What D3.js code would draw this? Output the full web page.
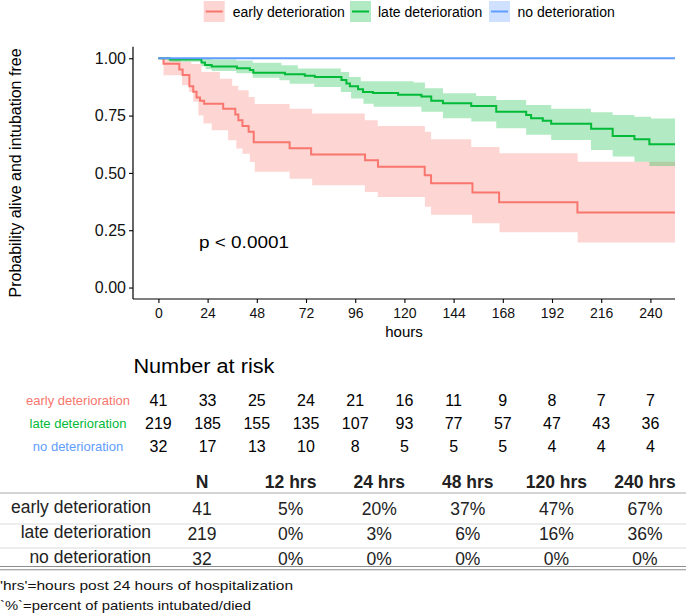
<!DOCTYPE html>
<html><head><meta charset="utf-8">
<script src="https://cdn.jsdelivr.net/npm/d3@7"></script>
<style>
body{margin:0;background:#fff}
svg{display:block}
text{font-family:"Liberation Sans",Arial,sans-serif}
</style>
</head><body>
<svg id="c" width="686" height="616"></svg>
<script>
// ---------------- data ----------------
const groups = ["early deterioration", "late deterioration", "no deterioration"];
const colors = ["#F8766D", "#00BA38", "#619CFF"];
const hourTicks = [0, 24, 48, 72, 96, 120, 144, 168, 192, 216, 240];
const probTicks = [0, 0.25, 0.5, 0.75, 1];
const probLabels = ["0.00", "0.25", "0.50", "0.75", "1.00"];

// Kaplan-Meier step curves [hours, survival]
const earlyCurve = [[0,1],[2.5,0.976],[10.2,0.951],[11.8,0.927],[15.1,0.878],[17,0.854],[18.6,0.829],[20.3,0.815],[22.3,0.802],[31.6,0.78],[37.5,0.755],[39,0.73],[41,0.705],[44,0.68],[46.5,0.634],[64,0.607],[74.5,0.58],[100.8,0.555],[107.1,0.527],[129.9,0.49],[133,0.455],[153.2,0.414],[166.2,0.372],[204.4,0.327]];
const earlyUpper = [[0,1],[11,0.985],[16,0.975],[21,0.94],[30,0.911],[36,0.88],[39,0.86],[44,0.831],[47,0.8],[64,0.78],[75,0.759],[100.7,0.73],[107,0.705],[130,0.68],[133,0.647],[152.6,0.613],[166.4,0.586],[204.5,0.549]];
const earlyLower = [[0,1],[2.5,0.926],[11.5,0.882],[15,0.853],[17,0.81],[19.5,0.75],[22,0.715],[26,0.686],[34,0.642],[38,0.606],[41,0.584],[44.6,0.548],[47,0.505],[64,0.475],[75,0.446],[100.7,0.417],[107,0.395],[130,0.352],[133,0.318],[153,0.28],[166.4,0.241],[204.5,0.196]];

const lateCurve = [[0,1],[5.5,0.995],[21,0.982],[22.7,0.971],[26,0.964],[38.3,0.956],[44.6,0.949],[46.3,0.937],[61.7,0.93],[71.4,0.924],[76.3,0.918],[89.3,0.905],[91.7,0.89],[93.4,0.878],[97.4,0.865],[99.8,0.853],[104.7,0.849],[116.9,0.841],[128.3,0.833],[133.1,0.815],[138.8,0.804],[152.6,0.792],[164.8,0.767],[179.4,0.753],[181.8,0.738],[187.5,0.727],[191.6,0.714],[211.1,0.693],[221.6,0.661],[232.2,0.647],[239.5,0.625]];
const lateUpper = [[0,1],[26,0.995],[38,0.99],[46,0.98],[60,0.969],[68,0.955],[89,0.94],[93,0.918],[98.7,0.9],[124.5,0.894],[130,0.869],[138.8,0.847],[155,0.835],[164.8,0.818],[179.4,0.796],[191.6,0.78],[211,0.765],[221.6,0.753],[232.2,0.745],[240.3,0.737]];
const lateLower = [[0,1],[5.5,0.985],[21,0.965],[23,0.952],[26,0.944],[38,0.935],[46,0.915],[59,0.904],[64,0.889],[76,0.875],[89,0.853],[94,0.824],[100,0.802],[105,0.788],[128.3,0.767],[138.8,0.738],[152.6,0.724],[164.8,0.695],[179.4,0.666],[191.6,0.644],[211,0.6],[221.6,0.571],[232.2,0.549],[239.5,0.53]];

const noCurve = [[0,1]];

const maxHour = 252;

// number at risk
const earlyRisk = [41, 33, 25, 24, 21, 16, 11, 9, 8, 7, 7];
const lateRisk = [219, 185, 155, 135, 107, 93, 77, 57, 47, 43, 36];
const noRisk = [32, 17, 13, 10, 8, 5, 5, 5, 4, 4, 4];

// summary table
const tableCols = ["N", "12 hrs", "24 hrs", "48 hrs", "120 hrs", "240 hrs"];
const earlyRow = ["41", "5%", "20%", "37%", "47%", "67%"];
const lateRow = ["219", "0%", "3%", "6%", "16%", "36%"];
const noRow = ["32", "0%", "0%", "0%", "0%", "0%"];
const footnotes = ["'hrs'=hours post 24 hours of hospitalization", "`%`=percent of patients intubated/died"];
const pText = "p < 0.0001";

// ---------------- drawing ----------------
const svg = d3.select("#c");
function addText(g, x, y, s, o = {}) {
  const t = g.append("text").attr("x", x).attr("y", y).text(s)
    .attr("font-size", o.size || 14).attr("fill", o.fill || "#000")
    .attr("text-anchor", o.anchor || "start");
  if (o.weight) t.attr("font-weight", o.weight);
  if (o.len) t.attr("textLength", o.len).attr("lengthAdjust", "spacingAndGlyphs");
  return t;
}

const x = d3.scaleLinear().domain([-12.4, 252]).range([133, 675]);
const y = d3.scaleLinear().domain([-0.05, 1.05]).range([299, 46.8]);

svg.append("clipPath").attr("id", "clip").append("rect")
  .attr("x", 133).attr("y", 46.8).attr("width", 542).attr("height", 252.2);

function stepVal(arr, t) { let v = arr[0][1]; for (const [tt, vv] of arr) if (tt <= t) v = vv; return v; }
function bandData(lo, hi) {
  const ts = Array.from(new Set(lo.map(d => d[0]).concat(hi.map(d => d[0])))).sort((a, b) => a - b);
  ts.push(maxHour);
  return ts.map(t => ({ t, lo: stepVal(lo, t), hi: stepVal(hi, t) }));
}
const area = d3.area().curve(d3.curveStepAfter).x(d => x(d.t)).y0(d => y(d.lo)).y1(d => y(d.hi));
const line = d3.line().curve(d3.curveStepAfter).x(d => x(d[0])).y(d => y(d[1]));

const plot = svg.append("g").attr("clip-path", "url(#clip)");
const bands = [[earlyLower, earlyUpper, 0], [lateLower, lateUpper, 1]];
bands.forEach(([lo, hi, i]) => {
  plot.append("path").datum(bandData(lo, hi)).attr("d", area)
    .attr("fill", colors[i]).attr("fill-opacity", 0.3).attr("stroke", "none");
});
[earlyCurve, lateCurve, noCurve].forEach((c, i) => {
  const d = c.concat([[maxHour, c[c.length - 1][1]]]);
  plot.append("path").datum(d).attr("d", line)
    .attr("fill", "none").attr("stroke", colors[i]).attr("stroke-width", 2);
});

// axes
const xAxis = svg.append("g").attr("transform", "translate(0,299)")
  .call(d3.axisBottom(x).tickValues(hourTicks).tickSize(4).tickPadding(5));
const yAxis = svg.append("g").attr("transform", "translate(133,0)")
  .call(d3.axisLeft(y).tickValues(probTicks).tickFormat((d, i) => probLabels[i]).tickSize(4).tickPadding(3));
[xAxis, yAxis].forEach(a => {
  a.select(".domain").attr("stroke", "#000").attr("stroke-width", 1.2);
  a.selectAll(".tick line").attr("stroke", "#000").attr("stroke-width", 1.1);
  a.selectAll("text").attr("fill", "#111").attr("font-family", "Liberation Sans, Arial, sans-serif");
});
xAxis.selectAll("text").attr("font-size", 14);
yAxis.selectAll("text").attr("font-size", 16);
xAxis.select(".domain").attr("d", "M133,0H675");
yAxis.select(".domain").attr("d", "M0,46.8V299");

addText(svg, 404, 337, "hours", { size: 15, anchor: "middle" });
addText(svg, 0, 0, "Probability alive and intubation free", { size: 16, anchor: "middle" })
  .attr("transform", "translate(20.5,173) rotate(-90)");
addText(svg, x(19.8), 248, pText, { size: 16, len: 90 });

// legend
const legX = [203.7, 350, 489];
const legTX = [232.7, 378, 517.5];
groups.forEach((g, i) => {
  svg.append("rect").attr("x", legX[i]).attr("y", 1).attr("width", 21).attr("height", 21)
    .attr("fill", colors[i]).attr("fill-opacity", i === 2 ? 0.3 : 0.3);
  svg.append("line").attr("x1", legX[i] + 2).attr("x2", legX[i] + 19).attr("y1", 11.5).attr("y2", 11.5)
    .attr("stroke", colors[i]).attr("stroke-width", 2);
  addText(svg, legTX[i], 17, g, { size: 14 });
});

// number at risk
addText(svg, 133.4, 373, "Number at risk", { size: 20, len: 141 });
const riskRows = [earlyRisk, lateRisk, noRisk];
const riskY = [406, 428.5, 451.5];
riskRows.forEach((r, i) => {
  addText(svg, 78, riskY[i] - 1, groups[i], { size: 13, anchor: "middle", fill: colors[i] });
  r.forEach((v, j) => addText(svg, x(hourTicks[j]), riskY[i], v, { size: 16, anchor: "middle" }));
});

// summary table
const cx = d3.scalePoint().domain(tableCols).range([202, 645]);
svg.append("line").attr("x1", 0).attr("x2", 686).attr("y1", 493).attr("y2", 493).attr("stroke", "#d4d4d4").attr("stroke-width", 2);
[524, 548].forEach(v => svg.append("line").attr("x1", 0).attr("x2", 686).attr("y1", v).attr("y2", v).attr("stroke", "#dcdcdc").attr("stroke-width", 1.2));
[566.5, 569.8].forEach(v => svg.append("line").attr("x1", 0).attr("x2", 686).attr("y1", v).attr("y2", v).attr("stroke", "#8c8c8c").attr("stroke-width", 1.1));
tableCols.forEach(c => addText(svg, cx(c), 488, c, { size: 17.5, anchor: "middle", weight: "bold", fill: "#222" }));
const tRows = [earlyRow, lateRow, noRow];
const tY = [514.5, 540, 564.5];
tRows.forEach((r, i) => {
  addText(svg, 151, tY[i] - 2, groups[i], { size: 17.5, anchor: "end", fill: "#222" });
  r.forEach((v, j) => addText(svg, cx(tableCols[j]), tY[i], v, { size: 17.5, anchor: "middle", fill: "#222" }));
});
addText(svg, 0, 589.5, footnotes[0], { size: 13.5, len: 293, fill: "#111" });
addText(svg, 0, 609.5, footnotes[1], { size: 13.5, len: 251, fill: "#111" });
</script>
</body></html>
